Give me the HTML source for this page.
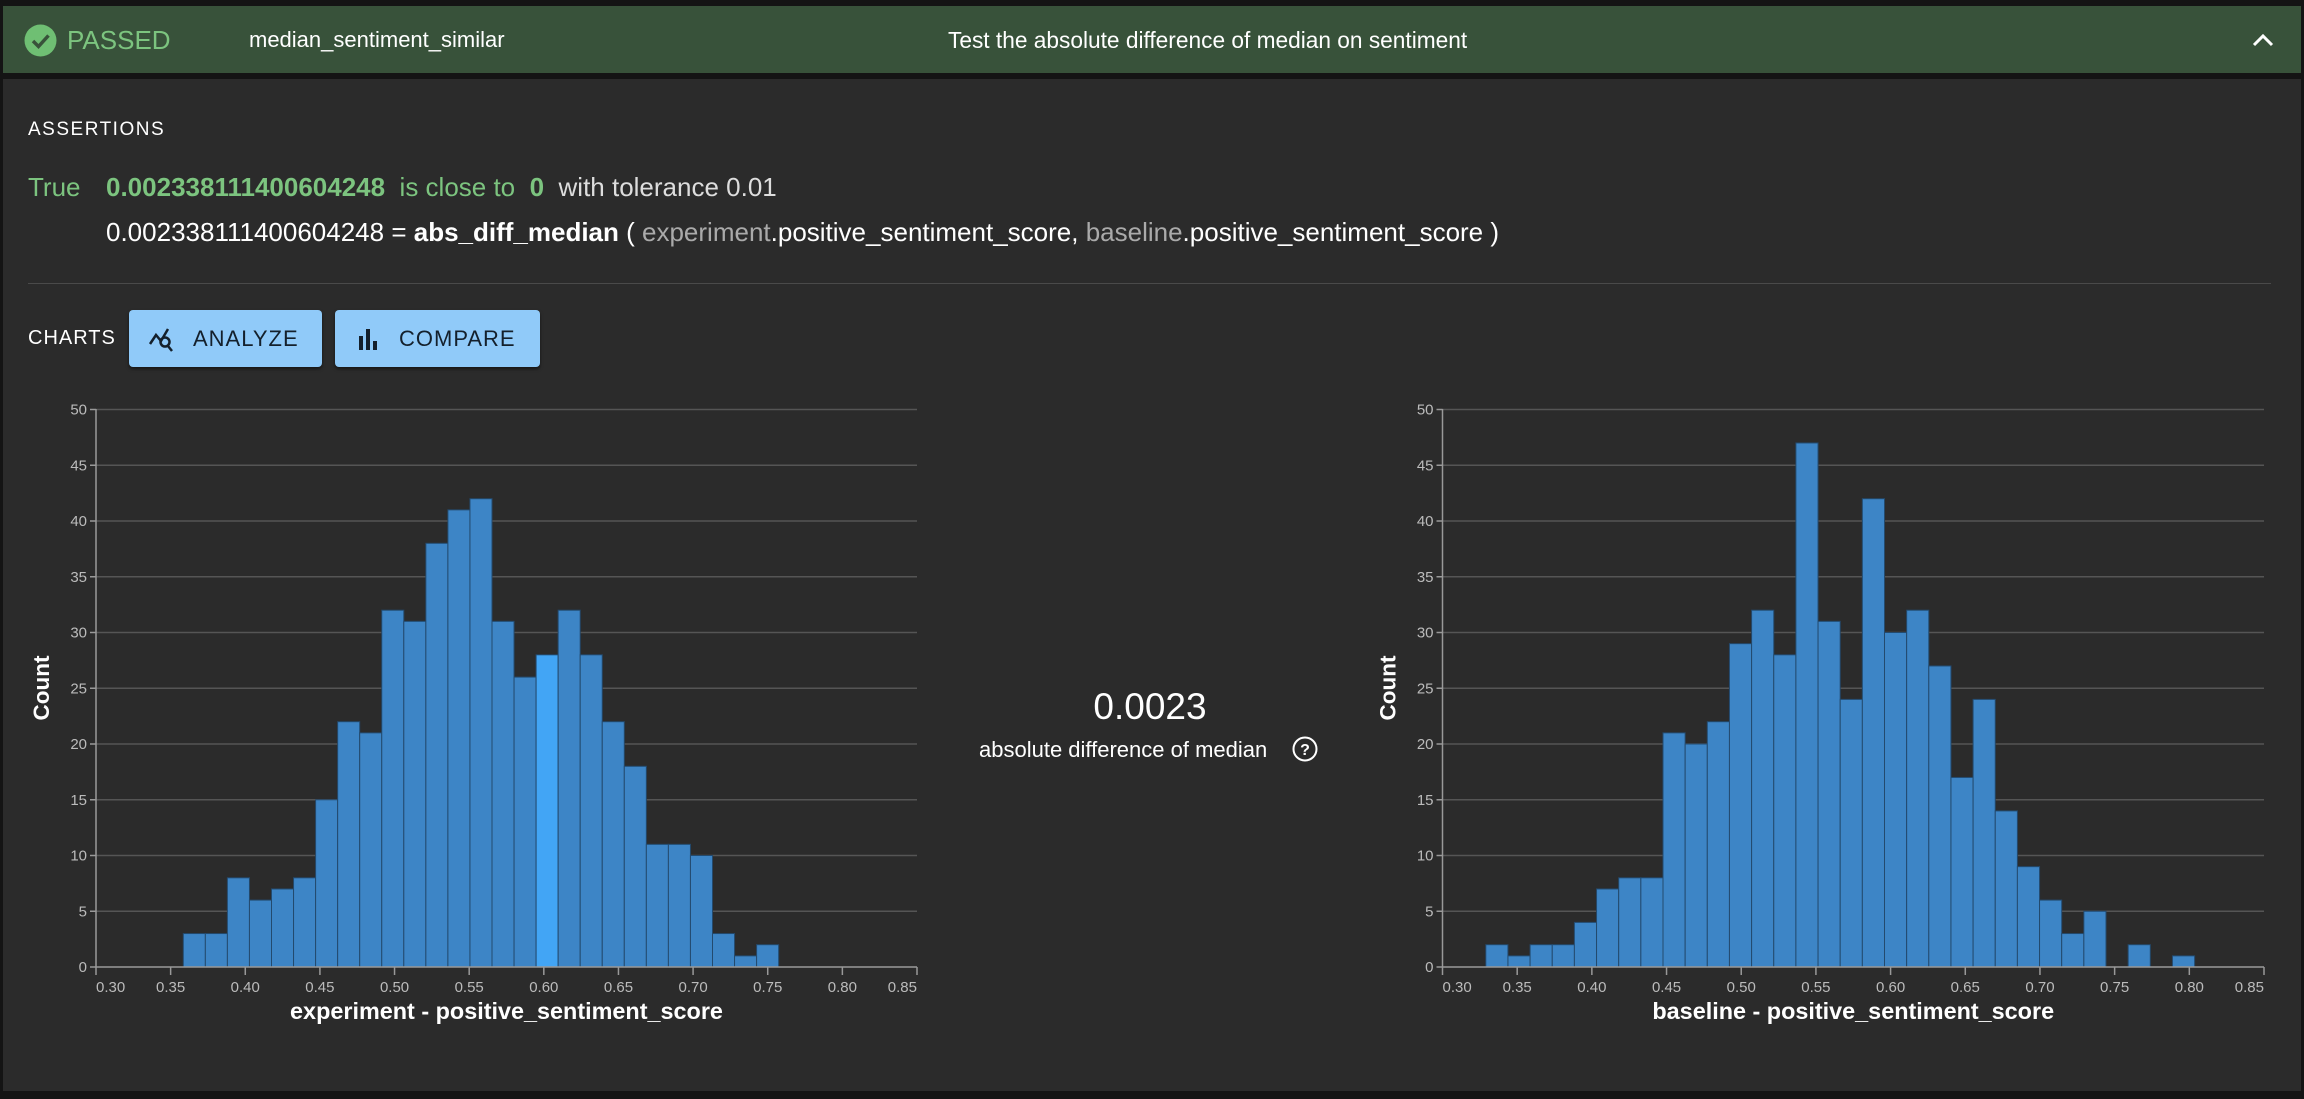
<!DOCTYPE html>
<html><head><meta charset="utf-8"><style>
*{margin:0;padding:0;box-sizing:border-box}
body{width:2304px;height:1099px;background:#141414;font-family:"Liberation Sans",sans-serif;position:relative;overflow:hidden}
.a{position:absolute;white-space:nowrap}
#hdr{position:absolute;left:3px;top:6px;width:2298px;height:67px;background:#38523a}
#panel{position:absolute;left:3px;top:79px;width:2298px;height:1012px;background:#2b2b2b}
.btn{position:absolute;top:310px;height:57px;background:#90caf9;border-radius:4px;color:#14202c;font-size:22px;letter-spacing:1px;box-shadow:0 2px 3px rgba(0,0,0,.5)}
</style></head><body>
<div id="hdr"></div>
<div id="panel"></div>
<svg class="a" style="left:24px;top:24px" width="33" height="33"><circle cx="16.5" cy="16.5" r="16" fill="#6fbf73"/><path d="M9 17 L14.5 22.5 L24.5 11.5" stroke="#38523a" stroke-width="3.5" fill="none"/></svg>
<div class="a" style="left:67px;top:25px;font-size:26px;color:#7cc47f">PASSED</div>
<div class="a" style="left:249px;top:27px;font-size:22px;color:#fff">median_sentiment_similar</div>
<div class="a" style="left:948px;top:27px;font-size:22.7px;color:#fff">Test the absolute difference of median on sentiment</div>
<svg class="a" style="left:2252px;top:32px" width="22" height="16"><path d="M2 13 L11 4 L20 13" stroke="#fff" stroke-width="3" fill="none"/></svg>
<div class="a" style="left:28px;top:119px;font-size:19px;color:#fff;letter-spacing:1.5px">ASSERTIONS</div>
<div class="a" style="left:28px;top:172px;font-size:26px;color:#7cc47f">True</div>
<div class="a" style="left:106px;top:172px;font-size:26px;color:#7cc47f"><b>0.002338111400604248</b>&nbsp; is close to &nbsp;<b>0</b>&nbsp; <span style="color:#ddd">with tolerance 0.01</span></div>
<div class="a" style="left:106px;top:217px;font-size:26px;color:#fff">0.002338111400604248 = <b>abs_diff_median</b> ( <span style="color:#aaa">experiment</span>.positive_sentiment_score, <span style="color:#aaa">baseline</span>.positive_sentiment_score )</div>
<div class="a" style="left:28px;top:283px;width:2243px;height:1px;background:#4a4a4a"></div>
<div class="a" style="left:28px;top:327px;font-size:20px;color:#fff;letter-spacing:1px">CHARTS</div>
<div class="btn" style="left:129px;width:193px"><svg class="a" style="left:19px;top:16px" width="30" height="26"><path d="M2 18 L8 9 L13 15 L20 3" stroke="#14202c" stroke-width="2.5" fill="none"/><circle cx="17" cy="16" r="4.5" stroke="#14202c" stroke-width="2.5" fill="none"/><path d="M20 20 L24 25" stroke="#14202c" stroke-width="2.5"/></svg><span class="a" style="left:64px;top:16px">ANALYZE</span></div>
<div class="btn" style="left:335px;width:205px"><svg class="a" style="left:23px;top:17px" width="24" height="24"><rect x="1" y="9" width="4" height="14" fill="#14202c"/><rect x="8" y="2" width="4" height="21" fill="#14202c"/><rect x="15" y="14" width="4" height="9" fill="#14202c"/></svg><span class="a" style="left:64px;top:16px">COMPARE</span></div>
<div class="a" style="left:1050px;top:686px;width:200px;text-align:center;font-size:37px;color:#fff">0.0023</div>
<div class="a" style="left:979px;top:737px;font-size:22px;color:#fff">absolute difference of median</div>
<svg class="a" style="left:1292px;top:736px" width="26" height="26"><circle cx="13" cy="13" r="11.5" stroke="#fff" stroke-width="2" fill="none"/><text x="13" y="19" font-size="16" font-weight="bold" fill="#fff" text-anchor="middle" font-family="Liberation Sans">?</text></svg>
<svg id="ch" class="a" style="left:0;top:0" width="2304" height="1099"></svg>
<script>
var s='';
function y(v){return 967-v*11.15}
function chart(x0,x1,start,bw,counts,hi,title){
 var pw=(x1-x0)/11;
 for(var v=0;v<=50;v+=5){var yy=y(v);
  if(v>0)s+='<line x1="'+x0+'" x2="'+x1+'" y1="'+yy+'" y2="'+yy+'" stroke="#555" stroke-width="1.5"/>';
  s+='<line x1="'+(x0-6)+'" x2="'+x0+'" y1="'+yy+'" y2="'+yy+'" stroke="#999" stroke-width="1.5"/>';
  s+='<text x="'+(x0-9)+'" y="'+(yy+5)+'" font-size="15" fill="#bbb" text-anchor="end">'+v+'</text>';}
 for(var i=0;i<counts.length;i++){if(!counts[i])continue;var h=counts[i]*11.15;
  s+='<rect x="'+(start+i*bw)+'" y="'+(967-h)+'" width="'+bw+'" height="'+h+'" fill="'+(i==hi?'#42a5f5':'#3d85c6')+'" stroke="#234a6e" stroke-width="1"/>';}
 s+='<line x1="'+x0+'" x2="'+x0+'" y1="409" y2="967" stroke="#999" stroke-width="1.5"/>';
 s+='<line x1="'+x0+'" x2="'+x1+'" y1="967" y2="967" stroke="#999" stroke-width="1.5"/>';
 for(var k=0;k<=11;k++){var xx=x0+k*pw;
  s+='<line x1="'+xx+'" x2="'+xx+'" y1="967" y2="975" stroke="#999" stroke-width="1.5"/>';
  var a=k==0?'start':(k==11?'end':'middle');
  s+='<text x="'+xx+'" y="992" font-size="15" fill="#bbb" text-anchor="'+a+'">'+(0.30+k*0.05).toFixed(2)+'</text>';}
 s+='<text x="'+((x0+x1)/2)+'" y="1019" font-size="23.4" font-weight="bold" fill="#fff" text-anchor="middle">'+title+'</text>';
 s+='<text transform="translate('+(x0-47)+',688) rotate(-90)" font-size="22.5" font-weight="bold" fill="#fff" text-anchor="middle">Count</text>';
}
chart(96,917,183.3,22.05,[3,3,8,6,7,8,15,22,21,32,31,38,41,42,31,26,28,32,28,22,18,11,11,10,3,1,2],16,'experiment - positive_sentiment_score');
chart(1442.5,2264,1485.8,22.15,[2,1,2,2,4,7,8,8,21,20,22,29,32,28,47,31,24,42,30,32,27,17,24,14,9,6,3,5,0,2,0,1],-1,'baseline - positive_sentiment_score');
var c=document.getElementById('ch');c.setAttribute('font-family','Liberation Sans, sans-serif');c.innerHTML=s;
</script>
</body></html>
